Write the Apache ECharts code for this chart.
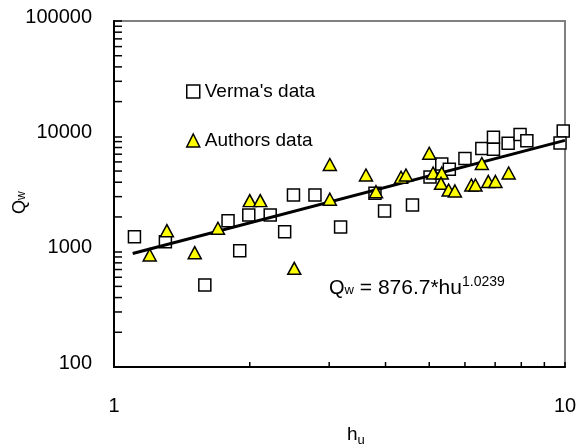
<!DOCTYPE html>
<html>
<head>
<meta charset="utf-8">
<script src="https://cdn.jsdelivr.net/npm/echarts@6/dist/echarts.min.js"></script>
<style>
  html, body { margin: 0; padding: 0; background: #fff; }
  #chart { width: 587px; height: 446px; }
</style>
</head>
<body>
<div id="chart"></div>
<script>
// Verma's data (hu, Qw)
const vermaHu = [1.11, 1.30, 1.59, 1.90, 1.79, 1.99, 2.22, 2.39, 2.50, 2.79, 3.18, 3.79, 3.98, 4.59,
  5.02, 5.33, 5.54, 6.00, 6.54, 6.94, 6.94, 7.48, 7.95, 8.23, 9.91, 9.75]
const vermaQw = [1350, 1220, 515, 1020, 1855, 2080, 2080, 1490, 3100, 3100, 1640, 3210, 2250, 2540,
  4440, 5760, 5180, 6420, 7850, 9810, 7720, 8700, 10380, 9170, 11130, 8760]

// Authors data (hu, Qw)
const authorsHu = [1.20, 1.31, 1.51, 1.70, 2.00, 2.11, 2.51, 3.01, 3.01, 3.62, 3.81, 4.33, 4.44,
  5.00, 5.10, 5.33, 5.31, 5.52, 5.70, 6.20, 6.33, 6.54, 6.76, 7.01, 7.50]
const authorsQw = [936, 1520, 980, 1595, 2770, 2770, 717, 2850, 5700, 4620, 3310, 4415, 4620,
  7130, 4810, 4810, 3915, 3425, 3360, 3785, 3785, 5815, 4060, 4060, 4810]

// fitted line Qw = 876.7*hu^1.0239, end points
const trendHu = [1.1, 10]
const trendQw = [965, 9220]

const xTickLabels = ['1', '10']
const yTickLabels = ['100', '1000', '10000', '100000']
const xMinorTicks = [2, 3, 4, 5, 6, 7, 8, 9]
const yMinorTicks = [200, 300, 400, 500, 600, 700, 800, 900,
  2000, 3000, 4000, 5000, 6000, 7000, 8000, 9000,
  20000, 30000, 40000, 50000, 60000, 70000, 80000, 90000]

const font = 'Liberation Sans, Arial, sans-serif'

const pairs = (xs, ys) => xs.map((x, i) => [x, ys[i]])

const chart = echarts.init(document.getElementById('chart'))

const option = {
  animation: false,
  backgroundColor: '#fff',
  grid: {
    left: 114, right: 22, top: 21, bottom: 79,
    show: true,
    borderColor: '#808080',
    borderWidth: 2
  },
  legend: {
    orient: 'vertical',
    left: 186,
    top: 82,
    padding: 0,
    itemWidth: 13,
    itemHeight: 13,
    itemGap: 30,
    textStyle: { fontSize: 19, fontFamily: font, color: '#000' },
    data: [
      { name: "Verma's data", icon: 'rect', itemStyle: { color: '#fff', borderColor: '#000', borderWidth: 1.5 } },
      { name: 'Authors data', icon: 'triangle', itemStyle: { color: '#ffff00', borderColor: '#000', borderWidth: 1.5 } }
    ]
  },
  xAxis: {
    type: 'log',
    logBase: 10,
    min: 1,
    max: 10,
    splitLine: { show: false },
    axisLine: { lineStyle: { color: '#000', width: 2 } },
    axisTick: { inside: true, length: 5, lineStyle: { color: '#000', width: 1.5 } },
    axisLabel: {
      margin: 29,
      fontSize: 20,
      fontFamily: font,
      color: '#000',
      formatter: (v, i) => xTickLabels[i]
    }
  },
  yAxis: {
    type: 'log',
    logBase: 10,
    min: 100,
    max: 100000,
    splitLine: { show: false },
    axisLine: { lineStyle: { color: '#000', width: 2 } },
    axisTick: { inside: true, length: 8, lineStyle: { color: '#000', width: 1.5 } },
    axisLabel: {
      margin: 22,
      color: '#000',
      formatter: (v, i) => '{a|' + yTickLabels[i] + '}',
      rich: {
        a: { fontSize: 20, fontFamily: font, color: '#000', padding: [0, 0, 8, 0] }
      }
    }
  },
  graphic: [
    {
      type: 'text',
      x: 329,
      y: 275,
      style: {
        text: '{q|Q}{w|w}{m| = 876.7*hu}{s|1.0239}',
        fill: '#000',
        rich: {
          q: { fontSize: 20, fontFamily: font, verticalAlign: 'middle', lineHeight: 26 },
          w: { fontSize: 13, fontFamily: font, verticalAlign: 'middle', padding: [4, 0, 0, 0] },
          m: { fontSize: 21, fontFamily: font, verticalAlign: 'middle', lineHeight: 26 },
          s: { fontSize: 14, fontFamily: font, verticalAlign: 'middle', padding: [0, 0, 13, 0] }
        }
      }
    },
    {
      type: 'text',
      x: 347,
      y: 422,
      style: {
        text: '{h|h}{u|u}',
        fill: '#000',
        rich: {
          h: { fontSize: 19, fontFamily: font, verticalAlign: 'middle', lineHeight: 24 },
          u: { fontSize: 13, fontFamily: font, verticalAlign: 'middle', padding: [12, 0, 0, 0] }
        }
      }
    },
    {
      type: 'text',
      x: 8,
      y: 214,
      rotation: Math.PI / 2,
      style: {
        text: '{q|Q}{w|w}',
        fill: '#000',
        rich: {
          q: { fontSize: 18, fontFamily: font, verticalAlign: 'middle', lineHeight: 24 },
          w: { fontSize: 12, fontFamily: font, verticalAlign: 'middle', padding: [4, 0, 0, 0] }
        }
      }
    }
  ],
  series: [
    {
      // minor ticks on the x axis
      type: 'custom',
      silent: true,
      clip: false,
      data: xMinorTicks.map(v => [v, 100]),
      renderItem: (params, api) => {
        const p = api.coord([api.value(0), api.value(1)])
        return {
          type: 'line',
          shape: { x1: p[0], y1: p[1], x2: p[0], y2: p[1] - 5 },
          style: { stroke: '#000', lineWidth: 1.5 }
        }
      }
    },
    {
      // minor ticks on the y axis
      type: 'custom',
      silent: true,
      clip: false,
      data: yMinorTicks.map(v => [1, v]),
      renderItem: (params, api) => {
        const p = api.coord([api.value(0), api.value(1)])
        return {
          type: 'line',
          shape: { x1: p[0], y1: p[1], x2: p[0] + 8, y2: p[1] },
          style: { stroke: '#000', lineWidth: 1.5 }
        }
      }
    },
    {
      name: "Verma's data",
      type: 'scatter',
      symbol: 'rect',
      symbolSize: 12,
      itemStyle: { color: '#fff', borderColor: '#000', borderWidth: 1.5, opacity: 1 },
      data: pairs(vermaHu, vermaQw),
      z: 3
    },
    {
      name: 'trend',
      type: 'line',
      symbol: 'none',
      lineStyle: { color: '#000', width: 3 },
      data: pairs(trendHu, trendQw),
      z: 4
    },
    {
      name: 'Authors data',
      type: 'scatter',
      symbol: 'triangle',
      symbolSize: [13, 12],
      itemStyle: { color: '#ffff00', borderColor: '#000', borderWidth: 1.5, opacity: 1 },
      data: pairs(authorsHu, authorsQw),
      z: 5
    }
  ]
}

chart.setOption(option)
</script>
</body>
</html>
